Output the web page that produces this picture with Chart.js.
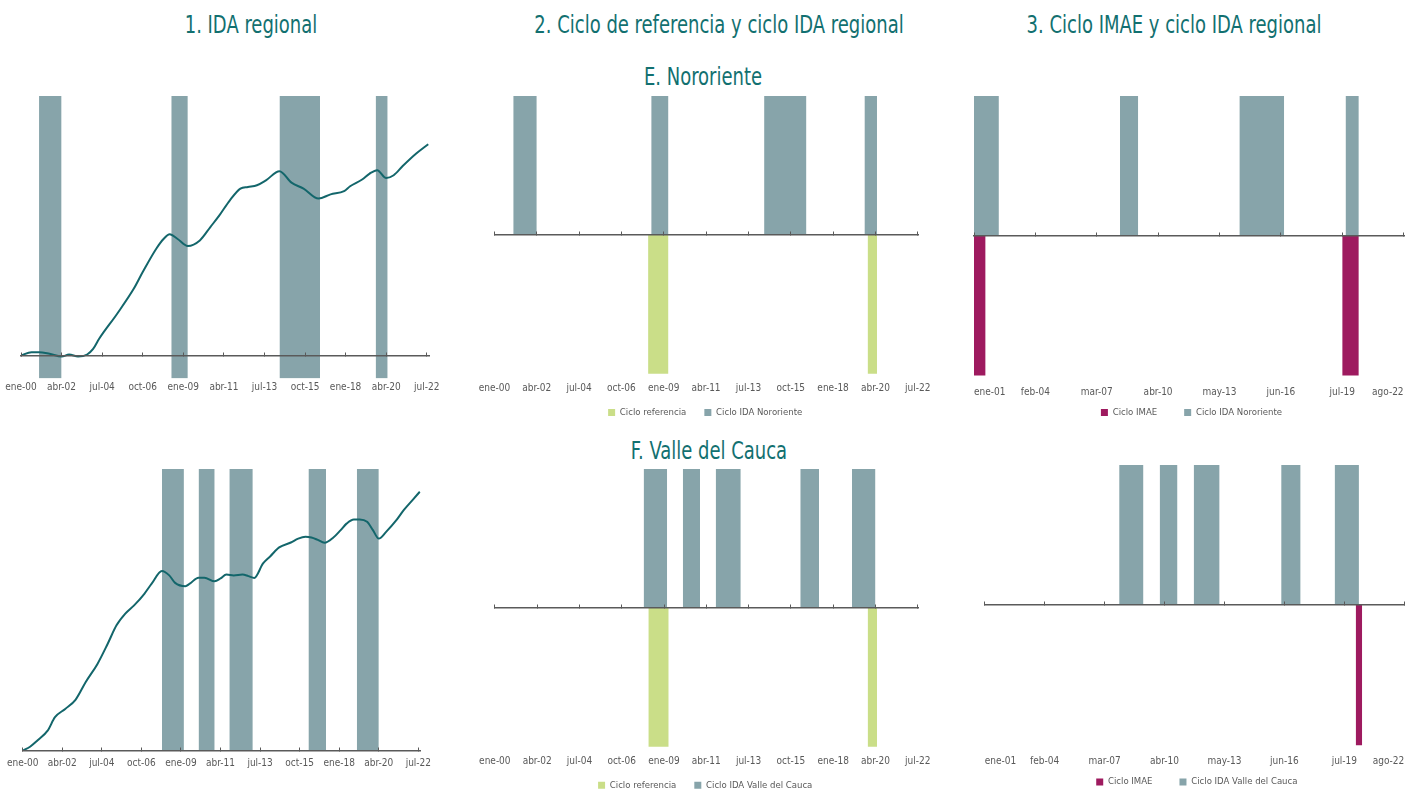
<!DOCTYPE html>
<html lang="es">
<head>
<meta charset="utf-8">
<title>IDA regional: Nororiente y Valle del Cauca</title>
<script src="https://cdn.jsdelivr.net/npm/chart.js@4.4.1/dist/chart.umd.min.js"></script>
<style>
  html, body { margin: 0; padding: 0; width: 1415px; height: 792px; overflow: hidden; background: #ffffff; }
  .titulo {
    position: absolute; transform: translateX(-50%) scaleX(0.8); white-space: nowrap;
    font-family: 'Liberation Sans Narrow', 'DejaVu Sans Condensed', sans-serif;
    font-size: 25px; line-height: 1; color: #127070;
  }
  canvas { position: absolute; }
</style>
</head>
<body>
<div class="titulo" style="left:251px; top:12px;">1. IDA regional</div>
<div class="titulo" style="left:719px; top:12px;">2. Ciclo de referencia y ciclo IDA regional</div>
<div class="titulo" style="left:1174px; top:12px;">3. Ciclo IMAE y ciclo IDA regional</div>
<div class="titulo" style="left:703px; top:64px;">E. Nororiente</div>
<div class="titulo" style="left:709px; top:438px;">F. Valle del Cauca</div>

<canvas id="c1a" width="450" height="312" style="left:0px; top:88px;"></canvas>
<canvas id="c2a" width="470" height="340" style="left:470px; top:88px;"></canvas>
<canvas id="c3a" width="465" height="340" style="left:950px; top:88px;"></canvas>
<canvas id="c1b" width="450" height="320" style="left:0px; top:460px;"></canvas>
<canvas id="c2b" width="470" height="340" style="left:470px; top:460px;"></canvas>
<canvas id="c3b" width="465" height="342" style="left:950px; top:455px;"></canvas>

<script>
// ---- Datos ----------------------------------------------------------------
// Meses en formato "mmm-aa"
const MESES = ['ene', 'feb', 'mar', 'abr', 'may', 'jun', 'jul', 'ago', 'sep', 'oct', 'nov', 'dic'];

// Etiquetas del eje horizontal
const ticksIda = ['ene-00', 'abr-02', 'jul-04', 'oct-06', 'ene-09', 'abr-11', 'jul-13', 'oct-15', 'ene-18', 'abr-20', 'jul-22'];
const ticksImae = ['ene-01', 'feb-04', 'mar-07', 'abr-10', 'may-13', 'jun-16', 'jul-19', 'ago-22'];

// Índice de difusión acumulado (IDA) - Nororiente
const fechasIdaNororiente = ['ene-00', 'ago-00', 'ene-01', 'ago-01', 'abr-02', 'sep-02', 'mar-03', 'sep-03', 'ene-04', 'may-04',
  'may-05', 'abr-06', 'oct-06', 'jul-07', 'dic-07', 'abr-08', 'sep-08', 'abr-09', 'dic-09', 'jul-10',
  'ene-11', 'ago-11', 'mar-12', 'ago-12', 'feb-13', 'ago-13', 'may-14', 'ene-15', 'sep-15', 'jul-16',
  'mar-17', 'dic-17', 'abr-18', 'dic-18', 'may-19', 'oct-19', 'abr-20', 'sep-20', 'mar-21', 'dic-21', 'ago-22'];
const idaNororiente = [0, 1.6, 1.6, 0.8, -0.5, 0.5, -0.5, 0.5, 3.1, 7.9,
  19.7, 31.4, 39.3, 50.3, 55.0, 57.1, 55.0, 51.6, 54.2, 60.5,
  66.0, 73.1, 78.6, 79.4, 80.2, 82.5, 86.8, 81.4, 78.6, 73.9,
  75.9, 77.4, 79.7, 82.9, 85.7, 87.3, 83.6, 84.9, 89.2, 95.1, 99.5];

// Índice de difusión acumulado (IDA) - Valle del Cauca
const fechasIdaValle = ['ene-00', 'jun-00', 'nov-00', 'jun-01', 'nov-01', 'jun-02', 'ene-03', 'ago-03', 'abr-04', 'nov-04',
  'may-05', 'nov-05', 'may-06', 'dic-06', 'may-07', 'dic-07', 'may-08', 'sep-08', 'abr-09', 'jul-09',
  'ene-10', 'may-10', 'dic-10', 'abr-11', 'ago-11', 'ene-12', 'jul-12', 'nov-12', 'mar-13', 'sep-13',
  'feb-14', 'ago-14', 'abr-15', 'sep-15', 'feb-16', 'jun-16', 'oct-16', 'mar-17', 'sep-17', 'feb-18',
  'jun-18', 'nov-18', 'mar-19', 'ago-19', 'dic-19', 'abr-20', 'sep-20', 'abr-21', 'sep-21', 'mar-22', 'ago-22'];
const idaValle = [0, 1.5, 3.9, 7.7, 12.9, 16.1, 19.6, 26.5, 33.5, 41.3,
  48.4, 52.9, 56.1, 60.6, 64.5, 69.4, 67.7, 64.8, 63.5, 64.5,
  66.8, 66.8, 65.4, 66.5, 68.0, 67.7, 68.0, 67.4, 66.7, 72.3,
  75.1, 78.5, 80.4, 81.9, 82.6, 82.3, 81.5, 80.3, 82.3, 85.2,
  87.7, 89.3, 89.3, 88.4, 85.2, 81.9, 84.5, 89.0, 92.9, 96.8, 100.0];

// Fases de ciclo: [primer mes, último mes] (ambos completos)
const cicloIdaNororiente = [['ene-01', 'mar-02'], ['may-08', 'mar-09'], ['may-14', 'jul-16'], ['sep-19', 'abr-20']];
const cicloIdaValle = [['dic-07', 'feb-09'], ['ene-10', 'nov-10'], ['oct-11', 'ene-13'], ['abr-16', 'mar-17'], ['ene-19', 'mar-20']];
const cicloReferencia = [['mar-08', 'mar-09'], ['nov-19', 'abr-20']];
const cicloImaeNororiente = [['ene-01', 'jul-01'], ['jul-19', 'abr-20']];
const cicloImaeValle = [['feb-20', 'may-20']];

// ---- Estilo ---------------------------------------------------------------
const FUENTE = "'Liberation Sans Narrow', 'DejaVu Sans Condensed', sans-serif";
const C_LINEA = '#13666b';
const C_IDA = '#87a4aa';
const C_REF = '#cade88';
const C_IMAE = '#9e1a5f';
const C_EJE = '#5a5a5a';
const C_TEXTO = '#595959';

Chart.defaults.font.family = FUENTE;
Chart.defaults.color = C_TEXTO;

// ---- Utilidades -----------------------------------------------------------
function mes(etq) {
  const [m, a] = etq.split('-');
  return Number(a) * 12 + MESES.indexOf(m);
}
function etiqueta(i) {
  const n = Math.round(i);
  return MESES[n % 12] + '-' + String(Math.floor(n / 12)).padStart(2, '0');
}
function puntos(fechas, valores) {
  return fechas.map((f, i) => ({ x: mes(f), y: valores[i] }));
}
// Franjas de ciclo: cada fase va del inicio de su primer mes al cierre del último
function franjas(periodos, valor) {
  const out = [];
  periodos.forEach(([a, b]) => {
    out.push({ x: mes(a), y: valor }, { x: mes(b) + 1, y: valor }, { x: mes(b) + 1, y: null });
  });
  return out;
}
function franja(label, periodos, valor, color, yAxisID) {
  return {
    type: 'line', label, data: franjas(periodos, valor), xAxisID: 'x', yAxisID,
    fill: 'origin', backgroundColor: color, borderColor: color, borderWidth: 0,
    pointRadius: 0, tension: 0, spanGaps: false, order: 1
  };
}

// Eje con línea base y marcas hacia arriba (sin etiquetas)
function ejeBase(ticks, min, max, posicion) {
  return {
    type: 'linear', position: posicion, min, max, bounds: 'data', offset: false,
    afterBuildTicks: s => { s.ticks = ticks.map(t => ({ value: mes(t) })); },
    ticks: { display: false },
    grid: { display: true, offset: false, drawOnChartArea: false, drawTicks: true, tickLength: -4, tickColor: C_EJE, tickWidth: 1, z: 1 },
    border: { display: true, color: C_EJE, width: 1.5, z: 1 }
  };
}
// Eje de etiquetas de fecha
function ejeFechas(ticks, min, max, posicion, padding, align) {
  return {
    type: 'linear', position: posicion, min, max, bounds: 'data', offset: false,
    afterBuildTicks: s => { s.ticks = ticks.map(t => ({ value: mes(t) })); },
    ticks: { display: true, padding, align, autoSkip: false, maxRotation: 0, minRotation: 0,
             font: { size: 10, family: FUENTE }, color: C_TEXTO, callback: v => etiqueta(v) },
    grid: { display: false, drawTicks: false, offset: false },
    border: { display: false }
  };
}

const comunes = { responsive: false, animation: false, events: [] };

// ---- Panel 1: IDA regional ------------------------------------------------
function panelIda(id, fechas, valores, periodos, cfg) {
  new Chart(document.getElementById(id), {
    type: 'line',
    data: {
      datasets: [
        { type: 'line', data: puntos(fechas, valores), borderColor: C_LINEA, borderWidth: 2, pointRadius: 0,
          tension: 0.4, cubicInterpolationMode: 'monotone', fill: false, xAxisID: 'x', yAxisID: 'y', order: 0 },
        franja('Ciclo IDA', periodos, 1, C_IDA, 'yb')
      ]
    },
    options: Object.assign({}, comunes, {
      layout: { padding: cfg.padding },
      plugins: { legend: { display: false }, tooltip: { enabled: false } },
      scales: {
        x: ejeBase(ticksIda, 0, cfg.max, { y: 0 }),
        xl: ejeFechas(ticksIda, 0, cfg.max, 'bottom', cfg.pad, 'center'),
        y: { display: false, min: cfg.ymin, max: cfg.ymax },
        yb: { display: false, min: 0, max: 1 }
      }
    })
  });
}

// ---- Paneles 2 y 3: ciclos --------------------------------------------------
function panelCiclo(id, conjuntos, ticks, cfg) {
  new Chart(document.getElementById(id), {
    type: 'line',
    data: {
      datasets: conjuntos.map(c => franja(c.label, c.periodos, c.valor, c.color, 'y'))
    },
    options: Object.assign({}, comunes, {
      layout: { padding: cfg.padding },
      plugins: {
        tooltip: { enabled: false },
        legend: { display: true, position: 'bottom',
          labels: { boxWidth: 7, boxHeight: 7, padding: cfg.legendPad, color: C_TEXTO, font: { size: 9.5, family: FUENTE } } }
      },
      scales: {
        x: ejeBase(ticks, cfg.min, cfg.max, { y: 0 }),
        xl: ejeFechas(ticks, cfg.min, cfg.max, { y: -1 }, cfg.pad, cfg.align),
        y: { display: false, min: cfg.ymin, max: 1 }
      }
    })
  });
}

// Fila superior: Nororiente
panelIda('c1a', fechasIdaNororiente, idaNororiente, cicloIdaNororiente,
  { padding: { left: 21, right: 21, top: 8, bottom: 3.4 }, max: 271.5, pad: 3, ymin: -10.85, ymax: 122.2 });

panelCiclo('c2a', [
  { label: 'Ciclo referencia', periodos: cicloReferencia, valor: -1, color: C_REF },
  { label: 'Ciclo IDA Nororiente', periodos: cicloIdaNororiente, valor: 1, color: C_IDA }
], ticksIda, { padding: { left: 21.7, right: 21.3, top: 8, bottom: 0.7 }, min: 0, max: 270.6, pad: 8.7, align: 'center', ymin: -1.115, legendPad: 18 });

panelCiclo('c3a', [
  { label: 'Ciclo IMAE', periodos: cicloImaeNororiente, valor: -1, color: C_IMAE },
  { label: 'Ciclo IDA Nororiente', periodos: cicloIdaNororiente, valor: 1, color: C_IDA }
], ticksImae, { padding: { left: 24, right: 6, top: 8, bottom: 0.7 }, min: 12, max: 271.4, pad: 11.4, align: 'inner', ymin: -1.038, legendPad: 27 });

// Fila inferior: Valle del Cauca
panelIda('c1b', fechasIdaValle, idaValle, cicloIdaValle,
  { padding: { left: 22.3, right: 29.3, top: 9, bottom: 3.4 }, max: 271.6, pad: 7, ymin: 0, ymax: 108.8 });

panelCiclo('c2b', [
  { label: 'Ciclo referencia', periodos: cicloReferencia, valor: -1, color: C_REF },
  { label: 'Ciclo IDA Valle del Cauca', periodos: cicloIdaValle, valor: 1, color: C_IDA }
], ticksIda, { padding: { left: 21.7, right: 21.3, top: 9, bottom: 0 }, min: 0, max: 270.6, pad: 9.1, align: 'center', ymin: -1.113, legendPad: 18 });

panelCiclo('c3b', [
  { label: 'Ciclo IMAE', periodos: cicloImaeValle, valor: -1, color: C_IMAE },
  { label: 'Ciclo IDA Valle del Cauca', periodos: cicloIdaValle, valor: 1, color: C_IDA }
], ticksImae, { padding: { left: 34.7, right: 6, top: 10, bottom: 0.3 }, min: 12, max: 271, pad: 10.7, align: 'inner', ymin: -1.036, legendPad: 27 });
</script>
</body>
</html>
